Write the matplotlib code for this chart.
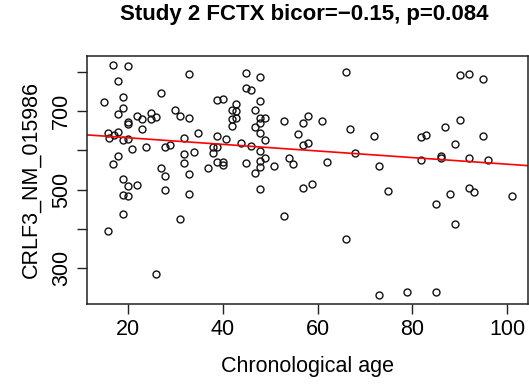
import numpy as np
import matplotlib
matplotlib.use("Agg")
import matplotlib.pyplot as plt

plt.rcParams['font.family'] = ['Liberation Sans', 'DejaVu Sans']

# age (years) and expression values
age = [16.9, 20.0, 18.0, 32.9, 14.9, 18.9, 26.9, 18.9, 17.9, 22.0,
       22.9, 20.0, 20.0, 24.9, 24.8, 26.0, 30.0, 30.9, 32.9, 38.8,
       40.0, 22.9, 15.9, 17.0, 16.0, 18.0, 18.9, 20.0, 20.9, 23.9,
       27.9, 28.9, 31.9, 34.9, 38.9, 40.8, 38.0, 38.9, 18.0, 16.9,
       31.9, 33.9, 38.0, 38.9, 40.0, 40.0, 26.9, 27.9, 31.9, 32.9,
       37.0, 18.9, 20.0, 22.0, 18.9, 20.0, 27.9, 32.9, 18.9, 30.9,
       15.9, 26.0, 44.9, 47.9, 44.9, 46.0, 65.9, 47.9, 42.9, 41.9,
       42.9, 46.9, 42.9, 41.9, 41.9, 47.9, 49.0, 47.9, 46.9, 47.9,
       53.0, 57.9, 56.9, 60.9, 55.9, 66.9, 43.9, 46.0, 49.0, 56.9,
       58.0, 47.9, 67.9, 44.9, 49.0, 47.9, 47.9, 50.9, 53.9, 54.9,
       61.9, 46.9, 47.9, 56.9, 58.9, 53.0, 65.9, 90.0, 92.0, 94.9,
       90.0, 86.9, 71.9, 81.9, 82.9, 88.9, 94.9, 73.0, 81.9, 86.0,
       86.0, 91.9, 96.0, 74.9, 84.9, 87.9, 91.9, 93.0, 100.9, 88.9,
       73.0, 78.9, 84.9]
expr = [817, 813, 776, 793, 722, 736, 746, 708, 692, 688,
        680, 673, 667, 694, 679, 685, 702, 688, 682, 728,
        730, 653, 643, 639, 631, 647, 626, 628, 604, 609,
        609, 613, 632, 645, 636, 628, 609, 609, 586, 564,
        591, 596, 594, 570, 570, 563, 554, 535, 568, 539,
        556, 526, 509, 512, 486, 485, 500, 488, 439, 425,
        395, 287, 797, 787, 759, 753, 800, 725, 717, 702,
        700, 702, 683, 679, 662, 681, 683, 670, 659, 645,
        675, 688, 669, 675, 641, 655, 619, 611, 626, 614,
        619, 598, 592, 568, 580, 573, 558, 561, 580, 565,
        570, 542, 501, 505, 514, 434, 374, 791, 793, 781,
        677, 660, 636, 635, 640, 615, 637, 561, 575, 586,
        581, 581, 575, 497, 463, 489, 505, 494, 483, 413,
        233, 241, 241]

# fitted line shown in red
fit_intercept = 648.7
fit_slope = -0.84

xticks = [20, 40, 60, 80, 100]
yticks = [300, 400, 500, 600, 700, 800]
ytick_labels = ['300', '', '500', '', '700', '']

fig = plt.figure(figsize=(5.29, 3.85), dpi=100)
ax = fig.add_axes([0.165, 0.2104, 0.833, 0.645])

ax.plot(age, expr, 'o', mfc='none', mec='#111111', ms=5.0, mew=1.0, ls='none')
ax.axline((0, fit_intercept), slope=fit_slope, color='red', lw=1.2)

xr = max(age) - min(age)
yr = max(expr) - min(expr)
ax.set_xlim(min(age) - 0.04 * xr, max(age) + 0.04 * xr)
ax.set_ylim(min(expr) - 0.04 * yr, max(expr) + 0.04 * yr)

ax.set_xticks(xticks)
ax.set_yticks(yticks)
ax.set_yticklabels(ytick_labels, rotation=90, va='center')
ax.tick_params(axis='both', length=7, width=1, labelsize=15.5, pad=4, color='#222222')

for s in ax.spines.values():
    s.set_linewidth(1.1)
    s.set_color('#222222')

ax.set_xlabel('Chronological age', fontsize=15.5, labelpad=11)
ax.set_ylabel('CRLF3_NM_015986', fontsize=15.5, labelpad=7)
fig.text(0.575, 0.963, 'Study 2 FCTX bicor=\u22120.15, p=0.084',
         fontsize=16, fontweight='bold', ha='center', va='center')

fig.savefig('out.png', dpi=100)
